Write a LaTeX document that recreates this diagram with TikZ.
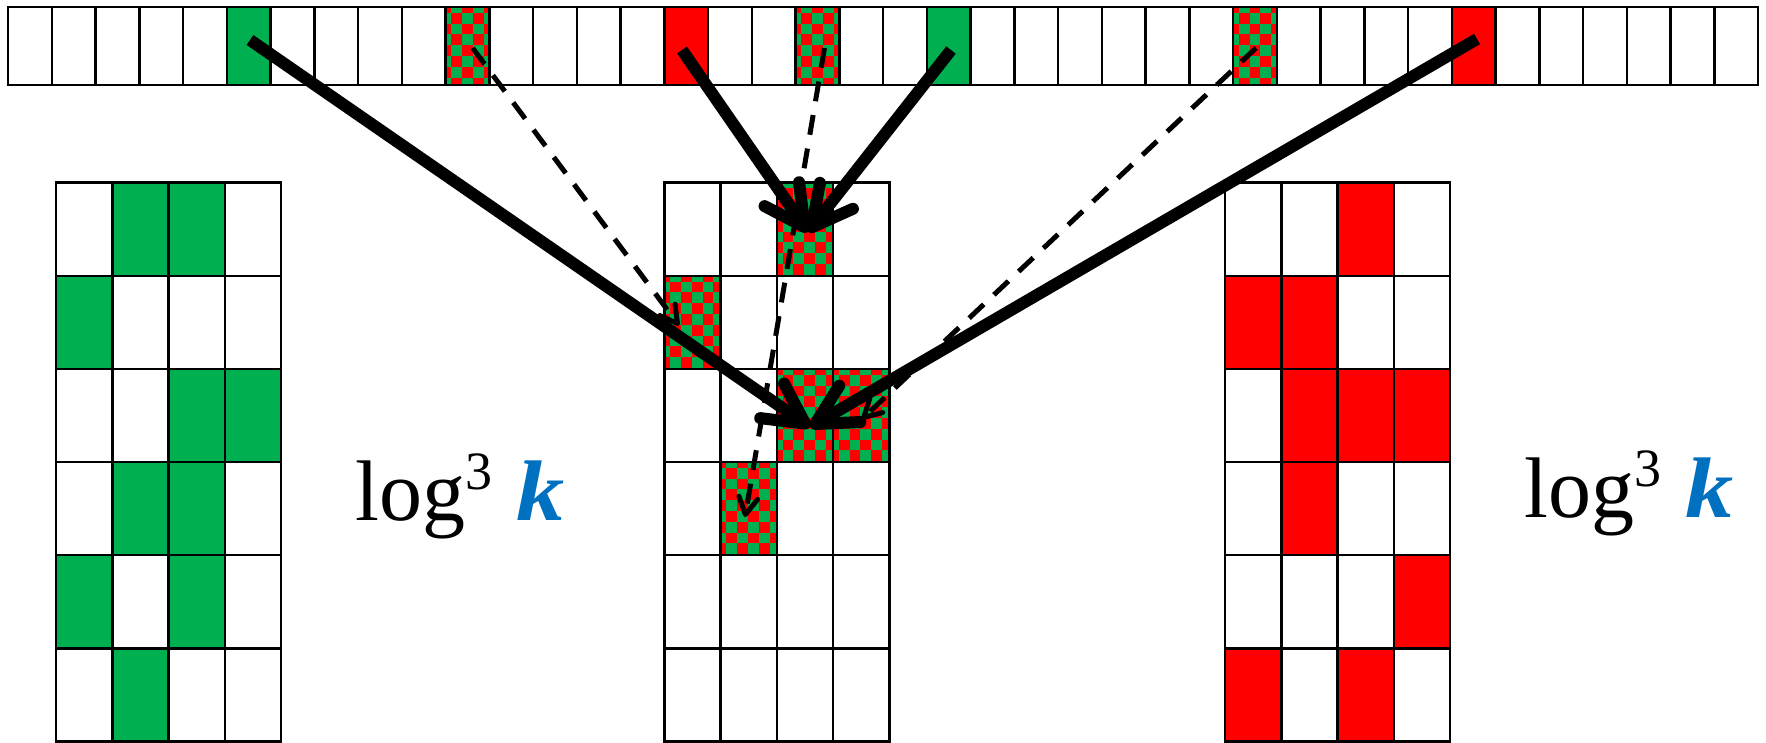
\documentclass[tikz,border=0pt]{standalone}
\usepackage{fontspec}
\setmainfont{Liberation Serif}
\usetikzlibrary{arrows.meta}
\definecolor{cgreen}{RGB}{0,176,80}
\definecolor{cred}{RGB}{255,0,0}
\definecolor{kblue}{RGB}{0,112,192}

\newcommand\chkcell[4]{%
 \begin{scope}
 \clip (#1,#2) rectangle ++(#3,#4);
 \fill[cgreen] (#1,#2) rectangle ++(#3,#4);
 \foreach \ci in {0,...,6}{
   \foreach \cj in {0,...,9}{
     \pgfmathtruncatemacro\cpar{mod(\ci+\cj,2)}
     \ifnum\cpar=0
       \fill[cred] ({#1-5+\ci*10.8},{#2-5+\cj*10.8}) rectangle ++(10.8,10.8);
     \fi
   }
 }
 \end{scope}}

\newcommand\gridcells[1]{%
 \foreach \gc in {0,...,3}{
   \foreach \gr in {0,...,5}{
     \draw[cellline] ({#1+\gc*56.25},{182.7+\gr*93.13}) rectangle ++(56.25,93.13);
   }
 }}

\newcommand\logk{log\raisebox{31pt}{\fontsize{54}{54}\selectfont 3}\hspace{24pt}\textcolor{kblue}{\scalebox{1.12}[1]{\textbf{\textit{k}}}}}

\tikzset{
  cellline/.style={draw=black, line width=2.5pt},
  thickarrow/.style={line width=12pt, line cap=butt,
     -{Straight Barb[length=40pt, width=42pt, round]}},
  dasharrow/.style={line width=5pt, line cap=butt, dash pattern=on 20pt off 14pt,
     -{Straight Barb[length=17pt, width=19pt, round]}},
  lab/.style={anchor=base west, inner sep=0pt, font=\fontsize{86}{90}\selectfont}
}

\begin{document}
\begin{tikzpicture}[x=1pt, y=-1pt]
\useasboundingbox (0,0) rectangle (1766,743);
\fill[white] (0,0) rectangle (1766,743);

% ---- top row colours
\foreach \i in {5,21}
  {\fill[cgreen] ({8+\i*43.75},7) rectangle ++(43.75,78);}
\foreach \i in {15,33}
  {\fill[cred] ({8+\i*43.75},7) rectangle ++(43.75,78);}
\foreach \i in {10,18,28}
  {\chkcell{8+\i*43.75}{7}{43.75}{78}}
% ---- top row lines
\foreach \i in {0,...,39}
  {\draw[cellline] ({8+\i*43.75},7) rectangle ++(43.75,78);}

% ---- left grid (green)
\foreach \c/\r in {1/0,2/0,0/1,2/2,3/2,1/3,2/3,0/4,2/4,1/5}
  {\fill[cgreen] ({56+\c*56.25},{182.7+\r*93.13}) rectangle ++(56.25,93.13);}
\gridcells{56}

% ---- middle grid (checker)
\foreach \c/\r in {2/0,0/1,2/2,3/2,1/3}
  {\chkcell{664.3+\c*56.25}{182.7+\r*93.13}{56.25}{93.13}}
\gridcells{664.3}

% ---- right grid (red)
\foreach \c/\r in {2/0,0/1,1/1,1/2,2/2,3/2,1/3,3/4,0/5,2/5}
  {\fill[cred] ({1225+\c*56.25},{182.7+\r*93.13}) rectangle ++(56.25,93.13);}
\gridcells{1225}

% ---- labels
\node[lab] (labL) at (355,520) {\logk};
\node[lab] (labR) at (1524.5,517.7) {\logk};

% ---- arrow end points
\coordinate (s1) at (250,40);
\coordinate (s2) at (682,50);
\coordinate (s3) at (951,50);
\coordinate (s4) at (1477,39);
\coordinate (d1) at (472.6,48);
\coordinate (d2) at (824.5,48);
\coordinate (d3) at (1256,48);
\coordinate (tU) at (808,232);
\coordinate (tL) at (810,427);
\coordinate (e1) at (679,325.5);
\coordinate (e2) at (745,517);
\coordinate (e3) at (862,419);

% ---- dashed arrows
\draw[dasharrow] (d1) -- (e1);
\draw[dasharrow] (d2) -- (e2);
\draw[dasharrow] (d3) -- (e3);

% ---- solid arrows
\draw[thickarrow] (s1) -- (tL);
\draw[thickarrow] (s4) -- (tL);
\draw[thickarrow] (s2) -- (tU);
\draw[thickarrow] (s3) -- (tU);
\end{tikzpicture}
\end{document}
